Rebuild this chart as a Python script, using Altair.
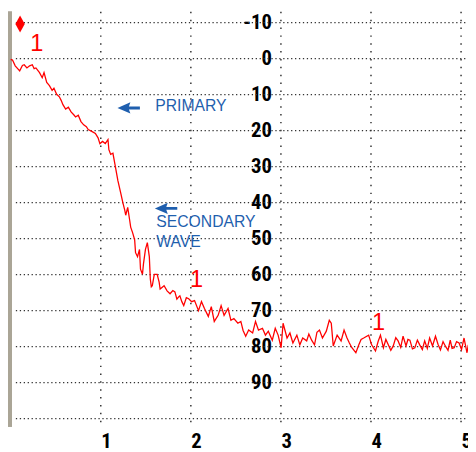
import altair as alt
import pandas as pd

# ---- data ----
x_vals = [0.00, 0.02, 0.05, 0.10, 0.13, 0.15, 0.18, 0.21, 0.24, 0.26, 0.28, 0.32, 0.35, 0.37,
          0.40, 0.43, 0.46, 0.48, 0.51, 0.54, 0.56, 0.58, 0.61, 0.64, 0.67, 0.70, 0.72, 0.75,
          0.78, 0.81, 0.84, 0.86, 0.90, 0.94, 0.97, 0.99, 1.02, 1.05, 1.08, 1.09, 1.11, 1.135,
          1.157, 1.19, 1.223, 1.245, 1.266, 1.277, 1.299, 1.321, 1.332, 1.354, 1.376, 1.386,
          1.408, 1.430, 1.441, 1.463, 1.474, 1.496, 1.517, 1.539, 1.550, 1.561, 1.572, 1.594,
          1.626, 1.648, 1.659, 1.703, 1.736, 1.769, 1.80, 1.823, 1.845, 1.867, 1.878, 1.90,
          1.921, 1.95, 1.976, 2.009, 2.041, 2.085, 2.118, 2.151, 2.194, 2.227, 2.260, 2.303,
          2.336, 2.369, 2.413, 2.445, 2.478, 2.522, 2.555, 2.58, 2.609, 2.642, 2.686, 2.718,
          2.751, 2.795, 2.828, 2.860, 2.904, 2.937, 2.969, 3.002, 3.024, 3.068, 3.100, 3.133,
          3.177, 3.210, 3.242, 3.286, 3.31, 3.341, 3.373, 3.40, 3.428, 3.461, 3.504, 3.537,
          3.559, 3.581, 3.624, 3.668, 3.701, 3.734, 3.76, 3.788, 3.832, 3.865, 3.89, 3.919,
          3.974, 4.007, 4.050, 4.08, 4.105, 4.138, 4.165, 4.192, 4.22, 4.247, 4.275, 4.301,
          4.33, 4.356, 4.389, 4.41, 4.432, 4.46, 4.487, 4.515, 4.541, 4.57, 4.596, 4.625,
          4.651, 4.683, 4.716, 4.745, 4.771, 4.80, 4.825, 4.855, 4.880, 4.90, 4.924, 4.95,
          4.978, 5.005, 5.033, 5.066, 5.08]
y_vals = [0.2, 0.4, 2.0, 3.4, 1.9, 1.7, 2.6, 2.0, 1.7, 2.8, 2.6, 3.9, 5.3, 3.9,
          6.6, 7.5, 8.8, 8.2, 9.9, 10.6, 11.6, 12.8, 14.0, 13.5, 14.8, 15.6, 16.2, 15.7,
          17.5, 18.4, 18.9, 19.7, 20.2, 20.8, 22.0, 23.6, 23.0, 23.6, 22.5, 25.3, 26.6, 26.3,
          29.3, 33.9, 37.5, 40.0, 42.1, 43.5, 41.3, 44.9, 46.8, 48.4, 50.3, 53.9,
          55.0, 53.0, 58.5, 59.9, 57.0, 53.0, 51.1, 55.0, 61.2, 63.4, 63.1, 59.9,
          59.9, 62.1, 64.0, 63.1, 64.5, 65.3, 64.4, 64.8, 66.8, 66.1, 65.9, 67.5,
          68.6, 66.4, 66.7, 67.5, 67.2, 70.0, 67.5, 69.4, 71.6, 68.9, 73.0, 71.3,
          68.6, 71.3, 69.4, 72.7, 72.2, 73.5, 73.0, 75.5, 77.1, 75.4, 76.2, 73.0,
          75.4, 74.9, 76.8, 75.7, 78.2, 74.9, 76.8, 80.3, 73.5, 77.6, 76.2, 79.0,
          76.8, 79.5, 77.6, 78.4, 76.5, 78.2, 79.5, 76.0, 75.4, 77.6, 75.7, 72.7,
          73.5, 79.8, 76.8, 78.4, 75.4, 77.6, 79.0, 80.3, 81.7, 79.5, 78.0, 77.6,
          76.8, 79.5, 81.2, 78.5, 76.8, 80.3, 78.0, 79.5, 81.0, 79.8, 77.5, 78.4,
          80.2, 77.1, 79.8, 78.0, 78.2, 80.6, 80.3, 78.2, 79.5, 80.8, 78.4, 80.5,
          77.6, 79.8, 77.1, 79.4, 80.9, 78.6, 79.8, 81.0, 78.2, 80.5, 80.3, 78.6,
          79.0, 80.8, 77.6, 81.7, 79.5]

grid_y = [-10, 0, 10, 20, 30, 40, 50, 60, 70, 80, 90, 100]
grid_x = [1, 2, 3, 4, 5]
y_tick_values = [-10, 0, 10, 20, 30, 40, 50, 60, 70, 80, 90]
x_tick_values = [1, 2, 3, 4, 5]

marker_x = [0.29, 2.063, 4.083]
marker_y = [-4.0, 61.5, 73.5]
marker_text = ["1", "1", "1"]

diamond_x = [0.104]
diamond_y = [-9.6]

arrow_x = [1.31, 1.725]
arrow_y = [13.7, 41.6]

ann_text = ["PRIMARY", "SECONDARY", "WAVE"]
ann_x = [1.605, 1.616, 1.616]
ann_y = [13.2, 45.4, 50.9]

# ---- tables ----
line_df = pd.DataFrame({"x": x_vals, "y": y_vals, "i": range(len(x_vals))})
gy_df = pd.DataFrame({"y": grid_y})
gx_df = pd.DataFrame({"x": grid_x})
mk_df = pd.DataFrame({"x": marker_x, "y": marker_y, "t": marker_text})
dm_df = pd.DataFrame({"x": diamond_x, "y": diamond_y})
ar_df = pd.DataFrame({"x": arrow_x, "y": arrow_y})
an_df = pd.DataFrame({"x": ann_x, "y": ann_y, "t": ann_text})

xs = alt.Scale(domain=[-0.03, 5.077], nice=False, zero=False)
ys = alt.Scale(domain=[-13, 102.2], reverse=True, nice=False, zero=False)

NARROW = "Roboto Condensed, Liberation Sans"
BLUE = "#1f5fae"
LBL = "datum.value < 0 ? '-' + abs(datum.value) : '' + datum.value"

x_axis = alt.Axis(
    values=x_tick_values, grid=False, ticks=False, domain=False, title=None,
    labelAlign="left", labelBaseline="top", labelPadding=4, labelFont=NARROW,
    labelFontSize=21, labelFontWeight="bold", labelColor="black",
    labelFlush=False, labelOverlap=False, labelExpr=LBL)
y_axis = alt.Axis(
    values=y_tick_values, orient="left", offset=-268, grid=False, ticks=False,
    domain=False, title=None, labelAlign="right", labelBaseline="middle",
    labelPadding=0, labelFont=NARROW, labelFontSize=21, labelFontWeight="bold",
    labelColor="black", labelOverlap=False, labelFlush=False, labelExpr=LBL)


def X(field="x:Q"):
    return alt.X(field, scale=xs, axis=x_axis)


def Y(field="y:Q"):
    return alt.Y(field, scale=ys, axis=y_axis)


hgrid = alt.Chart(gy_df).mark_rule(color="#333333", strokeWidth=1.3, strokeDash=[1.3, 2.7]).encode(
    y=Y(), x=alt.value(8), x2=alt.value(468),
)
vgrid = alt.Chart(gx_df).mark_rule(color="#333333", strokeWidth=1.5, strokeDash=[1.5, 6.5]).encode(
    x=X(), y=alt.value(0), y2=alt.value(422),
)
border = alt.Chart(gx_df).mark_rect(color="#aaa596").encode(
    x=alt.value(0), x2=alt.value(4), y=alt.value(0), y2=alt.value(422),
)

line = alt.Chart(line_df).mark_line(color="#ff0000", strokeWidth=1.3).encode(
    x=X(), y=Y(), order="i:Q",
)

markers = alt.Chart(mk_df).mark_text(color="#ff0000", font="Liberation Sans", fontSize=24,
                                     baseline="middle", align="center").encode(
    x=X(), y=Y(), text="t:N")

diamond = alt.Chart(dm_df).mark_point(
    shape="M0,-1L0.55,0L0,1L-0.55,0Z", filled=True, color="#ff0000", opacity=1, size=300).encode(
    x=X(), y=Y())

arrows = alt.Chart(ar_df).mark_point(
    shape="M-1,0L0.15,-0.5L0.02,-0.13L1,-0.13L1,0.13L0.02,0.13L0.15,0.5Z",
    filled=True, color=BLUE, opacity=1, size=520).encode(
    x=X(), y=Y())

ann = alt.Chart(an_df).mark_text(color=BLUE, font="Liberation Sans", fontSize=16,
                                 align="left", baseline="middle").encode(
    x=X(), y=Y(), text="t:N")

chart = alt.layer(hgrid, vgrid, border, line, markers, diamond, arrows, ann).properties(
    width=468, height=422,
    autosize=alt.AutoSizeParams(type="none"),
    padding={"left": 0, "top": 0, "right": 0, "bottom": 22},
    background="white",
).configure_view(stroke=None)

chart.save("out.html", embed_options={"renderer": "svg", "actions": False})
